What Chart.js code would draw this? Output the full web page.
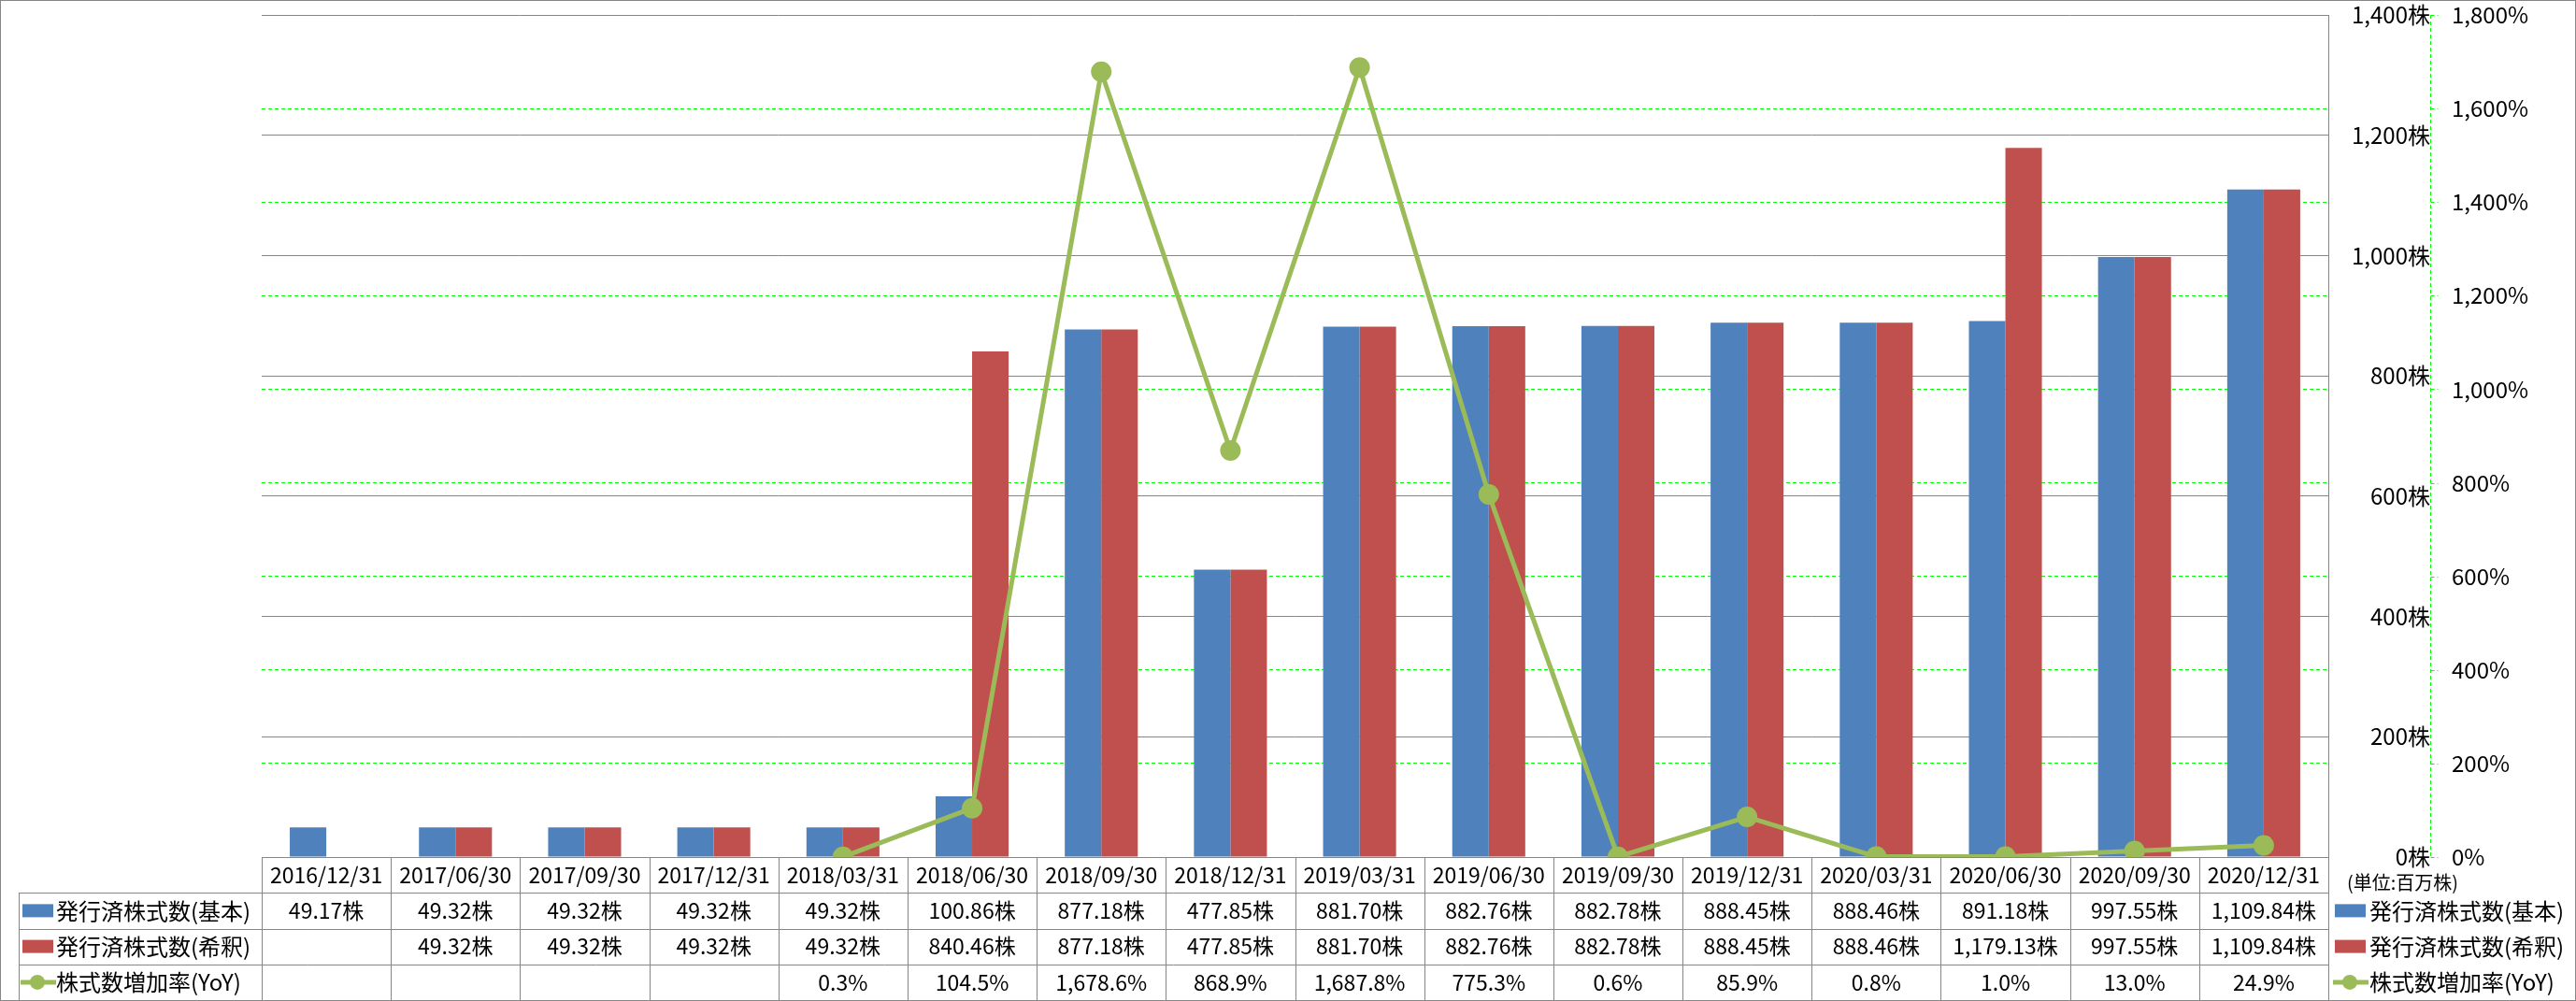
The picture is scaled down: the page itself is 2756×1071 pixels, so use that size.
<!DOCTYPE html>
<html>
<head>
<meta charset="utf-8">
<script src="https://cdn.jsdelivr.net/npm/chart.js@4/dist/chart.umd.min.js"></script>
<style>
  body { margin: 0; background: #fff; }
  #wrap { width: 2756px; height: 1071px; position: relative; }
</style>
</head>
<body>
<div id="wrap"><canvas id="myChart"></canvas></div>
<script>
const periods = ["2016/12/31", "2017/06/30", "2017/09/30", "2017/12/31", "2018/03/31", "2018/06/30",
  "2018/09/30", "2018/12/31", "2019/03/31", "2019/06/30", "2019/09/30", "2019/12/31",
  "2020/03/31", "2020/06/30", "2020/09/30", "2020/12/31"];
const kihon = [49.17, 49.32, 49.32, 49.32, 49.32, 100.86, 877.18, 477.85, 881.70, 882.76,
  882.78, 888.45, 888.46, 891.18, 997.55, 1109.84];
const kishaku = [null, 49.32, 49.32, 49.32, 49.32, 840.46, 877.18, 477.85, 881.70, 882.76,
  882.78, 888.45, 888.46, 1179.13, 997.55, 1109.84];
const yoy = [null, null, null, null, 0.3, 104.5, 1678.6, 868.9, 1687.8, 775.3,
  0.6, 85.9, 0.8, 1.0, 13.0, 24.9];
const seriesNames = ["発行済株式数(基本)", "発行済株式数(希釈)", "株式数増加率(YoY)"];
const colors = ["#4F81BD", "#C0504D", "#9BBB59"];
const unitNote = "(単位:百万株)";

const FONT = '"Noto Sans CJK JP", "Noto Sans", sans-serif';
const GREY = "#868686";

function fmt(v, d) {
  return v.toLocaleString("en-US", { minimumFractionDigits: d, maximumFractionDigits: d });
}

// 凡例キー
function drawKey(ctx, i, x, y) {
  if (i < 2) {
    ctx.fillStyle = colors[i];
    ctx.fillRect(x, y - 7, 33, 14);
  } else {
    ctx.strokeStyle = colors[2];
    ctx.lineWidth = 5;
    ctx.beginPath();
    ctx.moveTo(x - 2, y);
    ctx.lineTo(x + 36, y);
    ctx.stroke();
    ctx.fillStyle = colors[2];
    ctx.beginPath();
    ctx.arc(x + 16, y, 8, 0, Math.PI * 2);
    ctx.fill();
  }
}

// データテーブル
const tablePlugin = {
  id: "dataTable",
  beforeDatasetsDraw(chart) {
    const ctx = chart.ctx;
    const area = chart.chartArea;
    const xs = chart.scales.x;
    const colW = (area.right - area.left) / periods.length;
    const top = area.bottom;
    const bottom = chart.height - 1;
    const rowH = (bottom - top) / 4;
    const labelLeft = 20;

    ctx.save();
    ctx.strokeStyle = GREY;
    ctx.lineWidth = 1;
    ctx.beginPath();
    for (let r = 0; r <= 4; r++) {
      const y = Math.round(top + r * rowH) + 0.5;
      ctx.moveTo(r === 0 ? area.left : labelLeft, y);
      ctx.lineTo(area.right, y);
    }
    for (let c = 0; c <= periods.length; c++) {
      const x = Math.round(area.left + c * colW) + 0.5;
      ctx.moveTo(x, top);
      ctx.lineTo(x, bottom);
    }
    ctx.moveTo(labelLeft + 0.5, top + rowH);
    ctx.lineTo(labelLeft + 0.5, bottom);
    ctx.stroke();

    ctx.fillStyle = "#000";
    ctx.textAlign = "center";
    ctx.textBaseline = "middle";
    ctx.font = "23px " + FONT;
    periods.forEach((p, i) => {
      const cx = xs.getPixelForValue(i);
      ctx.fillText(p, cx, top + rowH * 0.5);
      if (kihon[i] != null) ctx.fillText(fmt(kihon[i], 2) + "株", cx, top + rowH * 1.5);
      if (kishaku[i] != null) ctx.fillText(fmt(kishaku[i], 2) + "株", cx, top + rowH * 2.5);
      if (yoy[i] != null) ctx.fillText(fmt(yoy[i], 1) + "%", cx, top + rowH * 3.5);
    });

    ctx.font = "24px " + FONT;
    ctx.textAlign = "left";
    seriesNames.forEach((name, i) => {
      const cy = top + rowH * (i + 1.5);
      drawKey(ctx, i, 24, cy);
      ctx.fillStyle = "#000";
      ctx.fillText(name, 60, cy);
    });
    ctx.restore();
  },
  afterDraw(chart) {
    const ctx = chart.ctx;
    const area = chart.chartArea;
    const y2 = chart.scales.y2;
    const top = area.bottom;
    const rowH = (chart.height - 1 - top) / 4;
    const ax = Math.round(y2.left) + 0.5;
    ctx.save();
    // 右軸の破線と目盛り
    ctx.strokeStyle = "#00FF00";
    ctx.lineWidth = 1;
    ctx.setLineDash([4, 3]);
    ctx.beginPath();
    ctx.moveTo(ax, area.top);
    ctx.lineTo(ax, area.bottom);
    y2.ticks.forEach((t) => {
      const ty = Math.round(y2.getPixelForValue(t.value)) + 0.5;
      ctx.moveTo(ax, ty);
      ctx.lineTo(ax + 8, ty);
    });
    ctx.stroke();
    ctx.setLineDash([]);

    ctx.fillStyle = "#000";
    ctx.textBaseline = "middle";
    ctx.textAlign = "left";
    ctx.font = "20px " + FONT;
    ctx.fillText(unitNote, 2511, 944);

    ctx.font = "24px " + FONT;
    seriesNames.forEach((name, i) => {
      const cy = top + rowH * (i + 1.5);
      drawKey(ctx, i, 2498, cy);
      ctx.fillStyle = "#000";
      ctx.fillText(name, 2535, cy);
    });

    // 外枠
    ctx.strokeStyle = GREY;
    ctx.lineWidth = 1;
    ctx.strokeRect(0.5, 0.5, chart.width - 1, chart.height - 1);
    ctx.restore();
  }
};

Chart.defaults.font.family = FONT;
Chart.defaults.color = "#000";

const data = {
  labels: periods,
  datasets: [
    {
      type: "line",
      label: seriesNames[2],
      data: yoy,
      yAxisID: "y2",
      borderColor: colors[2],
      backgroundColor: colors[2],
      borderWidth: 5,
      pointRadius: 11,
      pointBorderWidth: 0,
      pointBackgroundColor: colors[2],
      order: 0,
    },
    {
      type: "bar",
      label: seriesNames[0],
      data: kihon,
      yAxisID: "y",
      backgroundColor: colors[0],
      categoryPercentage: 0.565,
      barPercentage: 1,
      order: 1,
    },
    {
      type: "bar",
      label: seriesNames[1],
      data: kishaku,
      yAxisID: "y",
      backgroundColor: colors[1],
      categoryPercentage: 0.565,
      barPercentage: 1,
      order: 1,
    },
  ],
};

const config = {
  type: "bar",
  data,
  options: {
    responsive: true,
    maintainAspectRatio: false,
    animation: false,
    layout: { padding: { left: 280, top: 16, bottom: 154, right: 0 } },
    plugins: { legend: { display: false }, tooltip: { enabled: false } },
    scales: {
      x: { display: false, offset: true },
      y: {
        position: "right",
        weight: 0,
        min: 0,
        max: 1400,
        afterFit(scale) { scale.width = 109; },
        ticks: {
          stepSize: 200,
          crossAlign: "far",
          padding: 1,
          font: { size: 24 },
          callback: (v) => fmt(v, 0) + "株",
        },
        grid: { color: GREY, lineWidth: 1, drawTicks: true, tickLength: 24, tickColor: "rgba(0,0,0,0)" },
        border: { display: true, color: GREY, width: 1 },
      },
      y2: {
        position: "right",
        weight: 1,
        min: 0,
        max: 1800,
        afterFit(scale) { scale.width = 156; },
        ticks: {
          stepSize: 200,
          padding: 1,
          font: { size: 24 },
          callback: (v) => fmt(v, 0) + "%",
        },
        grid: {
          // 上端と0の線はグレーの線を見せる
          color: (c) => (c.tick && (c.tick.value === 0 || c.tick.value === 1800)) ? "rgba(0,0,0,0)" : "#00FF00",
          lineWidth: 1,
          tickLength: 22,
          tickColor: "rgba(0,0,0,0)",
        },
        border: { display: false, dash: [4, 3] },
      },
    },
  },
  plugins: [tablePlugin],
};

const myChart = new Chart(document.getElementById("myChart"), config);
</script>
</body>
</html>
